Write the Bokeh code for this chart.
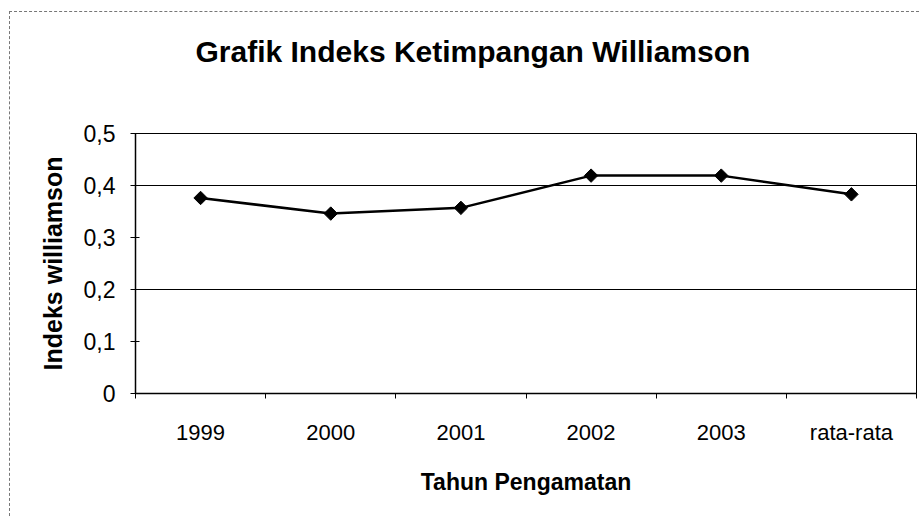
import math
from bokeh.plotting import figure
from bokeh.models import FixedTicker, Range1d, ColumnDataSource, Title
from bokeh.embed import file_html
from bokeh.resources import INLINE

categories = ["1999", "2000", "2001", "2002", "2003", "rata-rata"]
values = [0.376, 0.346, 0.357, 0.419, 0.419, 0.383]
y_ticks = [0, 0.1, 0.2, 0.3, 0.4, 0.5]
y_tick_labels = ["0", "0,1", "0,2", "0,3", "0,4", "0,5"]
grid_values = [0.2, 0.4]

title_text = "Grafik Indeks Ketimpangan Williamson"
x_label = "Tahun Pengamatan"
y_label = "Indeks williamson"

SANS = "'Liberation Sans', Arial, sans-serif"

xs = [i + 0.5 for i in range(len(categories))]
src = ColumnDataSource(dict(x=xs, y=values, cat=categories))

p = figure(width=910, height=505, output_backend="svg", toolbar_location=None,
           x_range=Range1d(0, len(categories)), y_range=Range1d(0, 0.5),
           min_border_left=125, min_border_right=4, min_border_top=121,
           min_border_bottom=124, background_fill_color="white",
           border_fill_color="white",
           styles={"margin-left": "9px", "margin-top": "11px",
                   "border-left": "1px dashed #777777",
                   "border-top": "1px dashed #777777"})

p.title.text = title_text
p.title.align = "left"
p.title.offset = 60
p.title.vertical_align = "top"
p.title.text_font = SANS
p.title.text_font_size = "30px"
p.title.text_font_style = "bold"
p.title.text_color = "black"
p.title.standoff = 10

# blank spacer between the title and the plot frame
p.add_layout(Title(text=" ", text_font_size="1px", standoff=56), "above")

p.outline_line_color = "black"
p.outline_line_width = 1

# x axis
p.xaxis.ticker = FixedTicker(ticks=xs, minor_ticks=list(range(len(categories) + 1)))
p.xaxis.major_label_overrides = {x: c for x, c in zip(xs, categories)}
p.xaxis.major_tick_line_color = None
p.xaxis.minor_tick_in = 0
p.xaxis.minor_tick_out = 5
p.xaxis.minor_tick_line_color = "black"
p.xaxis.axis_line_color = "black"
p.xaxis.axis_line_width = 1.5
p.xaxis.major_label_standoff = 20
p.xaxis.major_label_text_font = SANS
p.xaxis.major_label_text_font_size = "22px"
p.xaxis.major_label_text_color = "black"
p.xaxis.axis_label = x_label
p.xaxis.axis_label_text_font = SANS
p.xaxis.axis_label_text_font_size = "23px"
p.xaxis.axis_label_text_font_style = "bold"
p.xaxis.axis_label_text_color = "black"
p.xaxis.axis_label_standoff = 21

# y axis
p.yaxis.ticker = FixedTicker(ticks=y_ticks, minor_ticks=[])
p.yaxis.major_label_overrides = {t: l for t, l in zip(y_ticks, y_tick_labels)}
p.yaxis.major_tick_in = 4
p.yaxis.major_tick_out = 5
p.yaxis.major_tick_line_color = "black"
p.yaxis.axis_line_color = "black"
p.yaxis.axis_line_width = 1.5
p.yaxis.major_label_standoff = 15
p.yaxis.major_label_text_font = SANS
p.yaxis.major_label_text_font_size = "23px"
p.yaxis.major_label_text_color = "black"
p.yaxis.axis_label = y_label
p.yaxis.axis_label_text_font = SANS
p.yaxis.axis_label_text_font_size = "25px"
p.yaxis.axis_label_text_font_style = "bold"
p.yaxis.axis_label_text_color = "black"
p.yaxis.axis_label_standoff = 14

p.xgrid.grid_line_color = None
p.ygrid.ticker = FixedTicker(ticks=grid_values)
p.ygrid.grid_line_color = "black"
p.ygrid.grid_line_width = 1.2

p.line("x", "y", source=src, line_color="black", line_width=2.5)
p.scatter("x", "y", source=src, marker="square", angle=math.pi / 4, size=9.5,
          fill_color="black", line_color="black")

open("out.html", "w").write(file_html(p, INLINE))
